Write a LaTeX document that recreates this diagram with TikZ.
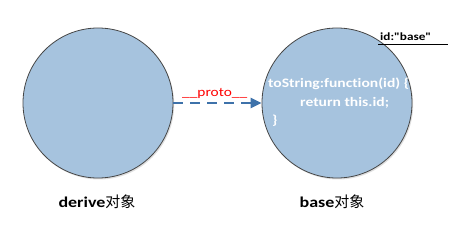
\documentclass[tikz,border=0pt]{standalone}
\usepackage{fontspec}
\setmainfont{Carlito}[FakeStretch=1.2,Ligatures={NoCommon}]
\newfontfamily\plainfont{Carlito}[FakeStretch=1.2,Ligatures={NoCommon}]
\newfontfamily\cjk{Noto Sans CJK SC}
\usetikzlibrary{arrows.meta,shadows}
\definecolor{circfill}{RGB}{166,195,222}
\definecolor{circline}{RGB}{70,70,70}
\definecolor{arrowblue}{RGB}{62,114,170}
\tikzset{
  objcircle/.style={circle, draw=circline, line width=0.8pt, fill=circfill,
    minimum size=150pt, inner sep=0pt,
    drop shadow={shadow xshift=1.2pt, shadow yshift=-1.5pt, fill=black!25, opacity=0.5}},
  codetext/.style={anchor=base west, inner sep=0pt, text=white, font=\fontsize{13}{15}\selectfont\bfseries},
  labeltext/.style={anchor=base, inner sep=0pt, font=\fontsize{15}{18}\selectfont\bfseries},
  protoarrow/.style={draw=arrowblue, line width=2.2pt, dash pattern=on 10pt off 7pt,
    -{Triangle[length=11pt,width=10pt,fill=arrowblue]}},
}
\begin{document}
\begin{tikzpicture}[x=1pt,y=-1pt]
\useasboundingbox (0,0) rectangle (451,230);
\node[objcircle] (derive) at (98,103) {};
\node[objcircle] (base) at (337,103) {};
\draw[protoarrow] (derive) -- (base);
\node[anchor=base west, inner sep=0pt, text=red, font=\fontsize{12.8}{15}\selectfont] (proto) at (182,97) {\_\_proto\_\_};
\node[codetext] (code1) at (268,88) {toString:function(id) \{};
\node[codetext] (code2) at (300,106.5) {return this.id;};
\node[codetext] (code3) at (272,125) {\}};
\node[anchor=base west, inner sep=0pt, font=\plainfont\fontsize{11}{13}\selectfont\bfseries] (idlabel) at (380,41) {id:"base"};
\coordinate (ulA) at (378,44.3);
\coordinate (ulB) at (448,44.3);
\draw[line width=0.8pt, black] (ulA) -- (ulB);
\node[labeltext] (derivelabel) at (97,208) {derive{\cjk\mdseries 对象}};
\node[labeltext] (baselabel) at (332,208) {base{\cjk\mdseries 对象}};
\end{tikzpicture}
\end{document}
